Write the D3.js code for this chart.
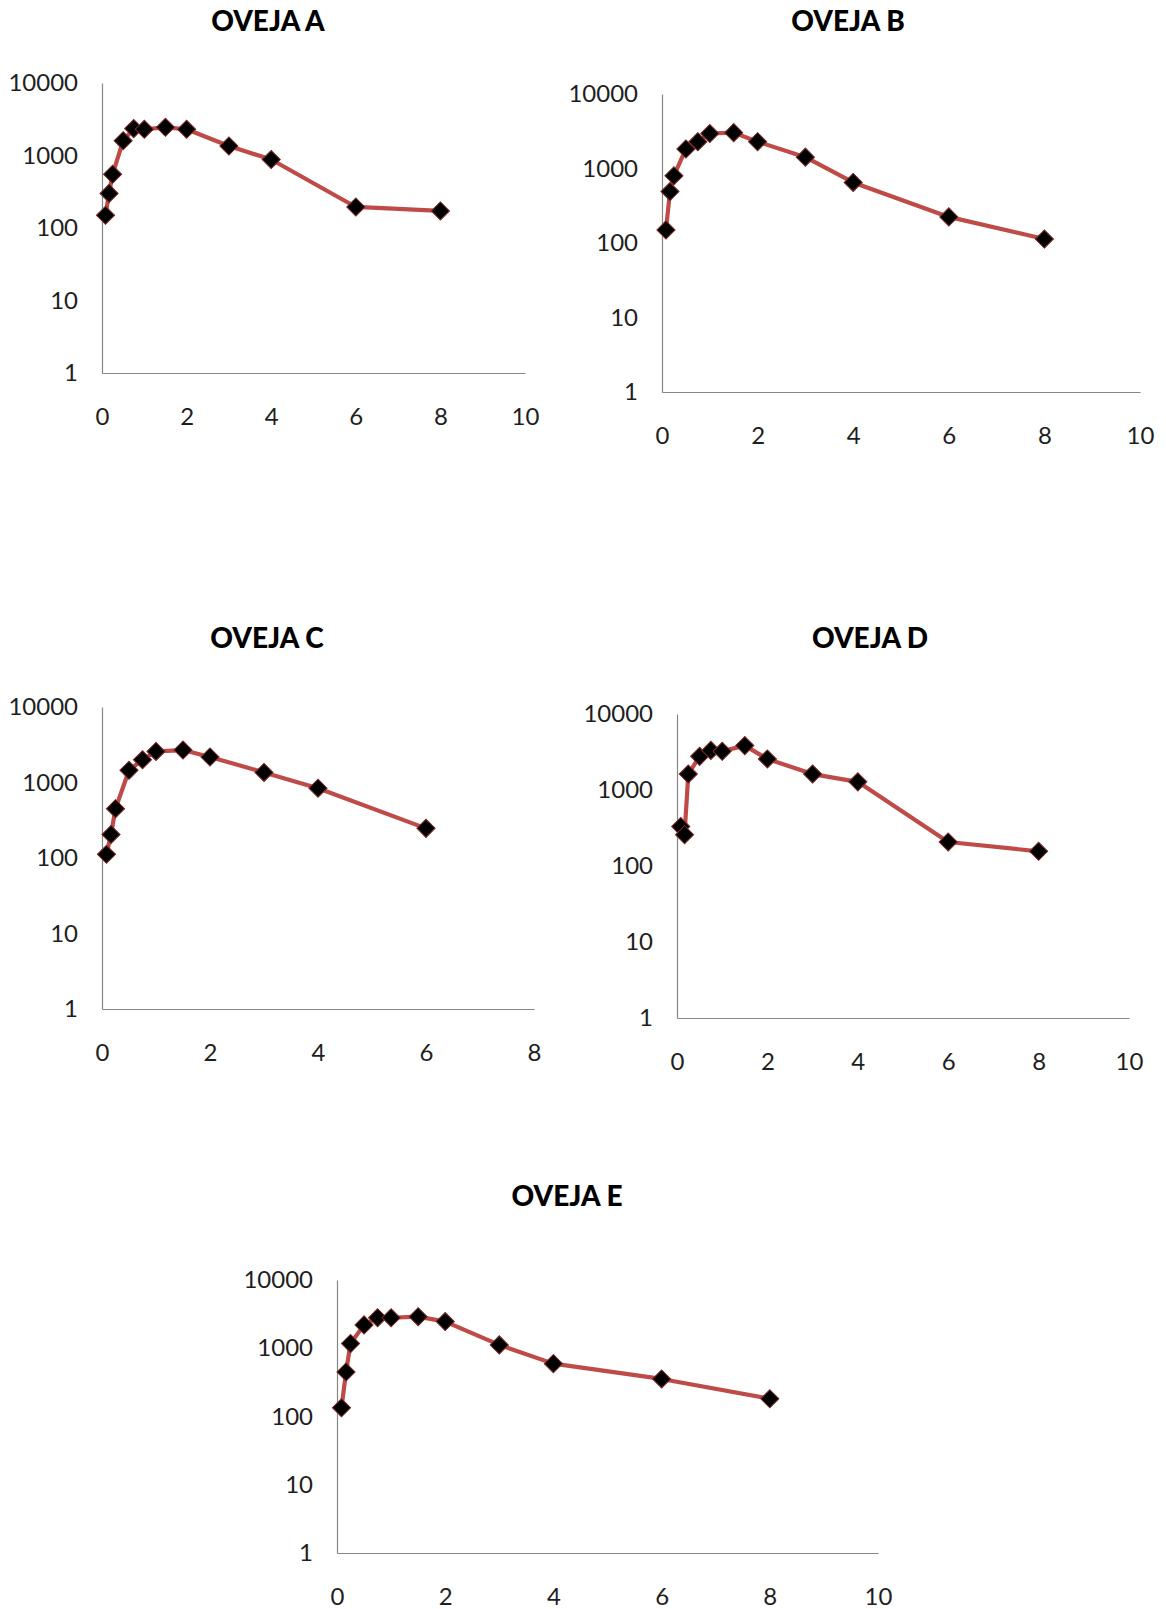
<!DOCTYPE html>
<html>
<head>
<meta charset="utf-8">
<script src="https://cdn.jsdelivr.net/npm/d3@7"></script>
<style>
  body { margin: 0; background: #fff; }
  .axis text { font-family: Lato, "Open Sans", sans-serif; font-size: 24px; fill: #1e1e1e; }
  .axis path { stroke: #868686; stroke-width: 1.2; }
  .title { font-family: Lato, "Open Sans", sans-serif; font-size: 28px; font-weight: 900; fill: #000; }
</style>
</head>
<body>
<div id="my_dataviz"></div>
<script>

// DATA
// sampling times (h)
var times = [0.083, 0.167, 0.25, 0.5, 0.75, 1, 1.5, 2, 3, 4, 6, 8];

// concentrations per sheep
var ovejaA = [150, 300, 550, 1600, 2350, 2300, 2450, 2300, 1350, 880, 195, 172];
var ovejaB = [150, 490, 800, 1830, 2290, 2950, 3030, 2290, 1420, 650, 224, 113];
var ovejaC = [112, 205, 450, 1450, 2000, 2580, 2690, 2180, 1360, 840, 247];
var ovejaD = [330, 258, 1620, 2770, 3320, 3230, 3840, 2560, 1620, 1280, 207, 156];
var ovejaE = [134, 450, 1170, 2200, 2800, 2800, 2900, 2460, 1120, 595, 355, 182];

var titles = ["OVEJA A", "OVEJA B", "OVEJA C", "OVEJA D", "OVEJA E"];
var yTicks = [1, 10, 100, 1000, 10000];
var xTicks10 = [0, 2, 4, 6, 8, 10];
var xTicks8 = [0, 2, 4, 6, 8];

// append the svg object to the body of the page
var svg = d3.select("#my_dataviz")
  .append("svg")
    .attr("width", 1166)
    .attr("height", 1609);

// panel layout (pixels)
var panels = [
  {title: titles[0], values: ovejaA, ticks: xTicks10, left: 102, right: 525,  top: 83,   bottom: 373,  tx: 268, ty: 31},
  {title: titles[1], values: ovejaB, ticks: xTicks10, left: 662, right: 1140, top: 94,   bottom: 392,  tx: 848, ty: 31},
  {title: titles[2], values: ovejaC, ticks: xTicks8,  left: 102, right: 534,  top: 707,  bottom: 1009, tx: 267, ty: 648},
  {title: titles[3], values: ovejaD, ticks: xTicks10, left: 677, right: 1129, top: 714,  bottom: 1018, tx: 870, ty: 648},
  {title: titles[4], values: ovejaE, ticks: xTicks10, left: 337, right: 878,  top: 1280, bottom: 1553, tx: 567, ty: 1206}
];

panels.forEach(function(p) {

  var x = d3.scaleLinear()
    .domain([0, d3.max(p.ticks)])
    .range([p.left, p.right]);

  var y = d3.scaleLog()
    .domain([1, 10000])
    .range([p.bottom, p.top]);

  var g = svg.append("g");

  // title
  g.append("text")
    .attr("class", "title")
    .attr("x", p.tx)
    .attr("y", p.ty)
    .attr("text-anchor", "middle")
    .text(p.title);

  // axes, no tick marks
  g.append("g")
    .attr("class", "axis")
    .attr("transform", "translate(" + p.left + ",0)")
    .call(d3.axisLeft(y).tickValues(yTicks).tickFormat(d3.format("d")).tickSize(0).tickPadding(24));

  g.append("g")
    .attr("class", "axis")
    .attr("transform", "translate(0," + p.bottom + ")")
    .call(d3.axisBottom(x).tickValues(p.ticks).tickSize(0).tickPadding(35));

  g.selectAll(".domain").attr("fill", "none");

  var pts = d3.zip(times.slice(0, p.values.length), p.values);

  // line
  g.append("path")
    .datum(pts)
    .attr("fill", "none")
    .attr("stroke", "#BE4B48")
    .attr("stroke-width", 4.2)
    .attr("stroke-linejoin", "round")
    .attr("d", d3.line()
      .x(function(d) { return x(d[0]); })
      .y(function(d) { return y(d[1]); })
    );

  // diamond markers
  g.selectAll(".pt")
    .data(pts)
    .enter()
    .append("path")
      .attr("class", "pt")
      .attr("transform", function(d) { return "translate(" + x(d[0]) + "," + y(d[1]) + ") rotate(45)"; })
      .attr("d", d3.symbol().type(d3.symbolSquare).size(165))
      .attr("fill", "#000")
      .attr("stroke", "#7a2a28")
      .attr("stroke-width", 1);
});

</script>
</body>
</html>
